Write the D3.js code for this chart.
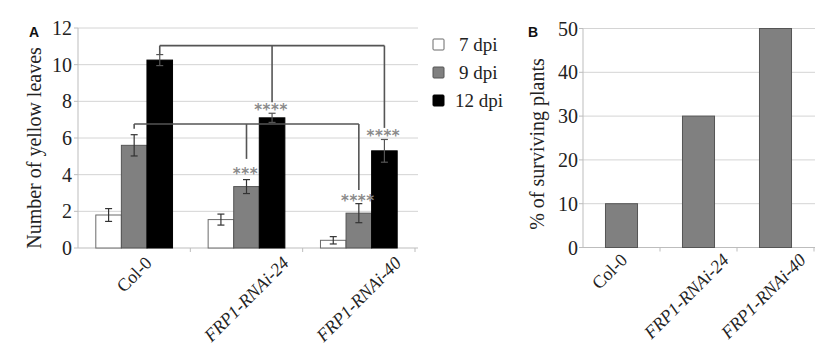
<!DOCTYPE html>
<html><head><meta charset="utf-8">
<script src="https://cdn.jsdelivr.net/npm/d3@7/dist/d3.min.js"></script>
<style>body{margin:0;background:#fff}svg{display:block}</style>
</head><body>
<svg id="c" width="836" height="350"></svg>
<script>
// ---- data ----
const categories = ["Col-0", "FRP1-RNAi-24", "FRP1-RNAi-40"];
const italicCats = [false, true, true];
const seriesNames = ["7 dpi", "9 dpi", "12 dpi"];
const dpi7  = [1.8, 1.55, 0.42];
const dpi9  = [5.6, 3.35, 1.9];
const dpi12 = [10.25, 7.1, 5.3];
const err7  = [0.35, 0.3, 0.2];
const err9  = [0.58, 0.38, 0.52];
const err12 = [0.3, 0.25, 0.62];
const ticksA = [0, 2, 4, 6, 8, 10, 12];
const survival = [10, 30, 50];
const ticksB = [0, 10, 20, 30, 40, 50];
// significance brackets: level and drop ends [cat, series, end value]
const bracketTop = {level: 11.04, ends: [[0, 2, 10.58], [1, 2, 7.95], [2, 2, 6.55]]};
const bracketMid = {level: 6.76, ends: [[0, 1, 6.5], [1, 1, 4.86], [2, 1, 3.16]]};
const stars = [[1, 2, "****", 7.75], [1, 1, "***", 4.26], [2, 1, "****", 2.8], [2, 2, "****", 6.35]];

const svg = d3.select("#c");
const serif = "'Liberation Serif','Times New Roman',serif";
const values = [dpi7, dpi9, dpi12];
const errs = [err7, err9, err12];
const fills = ["#ffffff", "#808080", "#000000"];
const strokes = ["#6b6b6b", "#555555", "#000000"];

// ---------- Panel A ----------
const xA = d3.scaleBand().domain(categories).range([78, 415]).paddingInner(0.317).paddingOuter(0.1585);
const xS = d3.scaleBand().domain(seriesNames).range([0, xA.bandwidth()]);
const yA = d3.scaleLinear().domain([0, 12]).range([248, 28]);
const gA = svg.append("g");

gA.selectAll("line.grid").data(ticksA.slice(1)).join("line")
  .attr("x1", 78).attr("x2", 418).attr("y1", d => yA(d)).attr("y2", d => yA(d))
  .attr("stroke", "#d4d4d4").attr("stroke-width", 1);
gA.append("line").attr("x1", 78).attr("x2", 78).attr("y1", yA(12)).attr("y2", yA(0)).attr("stroke", "#bdbdbd");
gA.append("line").attr("x1", 78).attr("x2", 418).attr("y1", yA(0)).attr("y2", yA(0)).attr("stroke", "#bdbdbd");
gA.selectAll("line.yt").data(ticksA).join("line")
  .attr("x1", 74).attr("x2", 78).attr("y1", d => yA(d)).attr("y2", d => yA(d)).attr("stroke", "#bdbdbd");
const stepA = xA.step();
d3.range(1, categories.length + 1).forEach(i => {
  const xx = 78 + i * stepA;
  gA.append("line").attr("x1", xx).attr("x2", xx).attr("y1", yA(0)).attr("y2", yA(0) + 4).attr("stroke", "#bdbdbd");
});
gA.selectAll("text.yl").data(ticksA).join("text")
  .attr("x", 72).attr("y", d => yA(d)).attr("text-anchor", "end").attr("dominant-baseline", "central")
  .attr("font-family", serif).attr("font-size", 20).attr("fill", "#222").text(d => d);

// bars
seriesNames.forEach((s, si) => {
  categories.forEach((c, ci) => {
    const v = values[si][ci], e = errs[si][ci];
    const x = xA(c) + xS(s), w = xS.bandwidth();
    gA.append("rect").attr("x", x).attr("y", yA(v)).attr("width", w).attr("height", yA(0) - yA(v))
      .attr("fill", fills[si]).attr("stroke", strokes[si]).attr("stroke-width", 1);
    const cx = x + w / 2;
    const eb = gA.append("g").attr("stroke", si === 2 ? "#555" : "#333").attr("stroke-width", 1.2);
    eb.append("line").attr("x1", cx).attr("x2", cx).attr("y1", yA(v + e)).attr("y2", yA(v - e));
    eb.append("line").attr("x1", cx - 3.5).attr("x2", cx + 3.5).attr("y1", yA(v + e)).attr("y2", yA(v + e));
    eb.append("line").attr("x1", cx - 3.5).attr("x2", cx + 3.5).attr("y1", yA(v - e)).attr("y2", yA(v - e));
  });
});

// brackets
function bracket(b) {
  const xs = b.ends.map(([ci, si]) => xA(categories[ci]) + xS(seriesNames[si]) + xS.bandwidth() / 2);
  const g = gA.append("g").attr("stroke", "#555").attr("stroke-width", 1.6).attr("fill", "none");
  g.append("line").attr("x1", xs[0]).attr("x2", xs[xs.length - 1]).attr("y1", yA(b.level)).attr("y2", yA(b.level));
  b.ends.forEach((d, i) => {
    g.append("line").attr("x1", xs[i]).attr("x2", xs[i]).attr("y1", yA(b.level)).attr("y2", yA(d[2]));
  });
}
bracket(bracketTop);
bracket(bracketMid);
stars.forEach(([ci, si, t, lv]) => {
  gA.append("text").attr("x", xA(categories[ci]) + xS(seriesNames[si]) + xS.bandwidth() / 2 - 1)
    .attr("y", yA(lv) + 9.5).attr("text-anchor", "middle").attr("font-family", "'DejaVu Sans',sans-serif")
    .attr("font-size", 15).attr("font-weight", "bold").attr("letter-spacing", 0.6)
    .attr("fill", "#8a8a8a").text(t);
});

// x labels
function rotLabels(g, xs, off, top, fs) {
  categories.forEach((c, i) => {
    const t = g.append("text").attr("text-anchor", "middle").attr("dominant-baseline", "central")
      .attr("font-family", serif).attr("font-size", fs).attr("fill", "#222")
      .attr("font-style", italicCats[i] ? "italic" : "normal").text(c);
    const L = t.node().getComputedTextLength();
    const cx = xs(c) + xs.bandwidth() / 2 + off;
    const cy = top + (L * 0.7071) / 2 + 5;
    t.attr("transform", `translate(${cx},${cy}) rotate(-45)`);
  });
}
rotLabels(gA, xA, 0, 255, 18);

// y title
gA.append("text").attr("transform", "translate(34,148) rotate(-90)").attr("text-anchor", "middle")
  .attr("dominant-baseline", "central").attr("font-family", serif).attr("font-size", 20).attr("fill", "#222")
  .text("Number of yellow leaves");
svg.append("text").attr("x", 29).attr("y", 37).attr("font-family", "'Liberation Sans',Arial,sans-serif")
  .attr("font-weight", "bold").attr("font-size", 14).attr("fill", "#111").text("A");

// legend
const leg = svg.append("g");
seriesNames.forEach((s, i) => {
  const by = 39 + i * 28;
  leg.append("rect").attr("x", 433).attr("y", by).attr("width", 11).attr("height", 11).attr("rx", 1)
    .attr("fill", fills[i]).attr("stroke", strokes[i]);
  leg.append("text").attr("x", i === 2 ? 455 : 459).attr("y", by + 11.5).attr("font-family", serif)
    .attr("font-size", 19).attr("fill", "#222").text(s);
});

// ---------- Panel B ----------
const xB = d3.scaleBand().domain(categories).range([583, 814]).paddingInner(0.584).paddingOuter(0.292);
const yB = d3.scaleLinear().domain([0, 50]).range([247.5, 28.5]);
const gB = svg.append("g");
gB.selectAll("line.grid").data(ticksB.slice(1)).join("line")
  .attr("x1", 583).attr("x2", 815).attr("y1", d => yB(d)).attr("y2", d => yB(d))
  .attr("stroke", "#d4d4d4");
gB.append("line").attr("x1", 583).attr("x2", 583).attr("y1", yB(50)).attr("y2", yB(0)).attr("stroke", "#bdbdbd");
gB.append("line").attr("x1", 583).attr("x2", 815).attr("y1", yB(0)).attr("y2", yB(0)).attr("stroke", "#bdbdbd");
gB.selectAll("line.yt").data(ticksB).join("line")
  .attr("x1", 579).attr("x2", 583).attr("y1", d => yB(d)).attr("y2", d => yB(d)).attr("stroke", "#bdbdbd");
d3.range(1, categories.length + 1).forEach(i => {
  const xx = 583 + i * xB.step();
  gB.append("line").attr("x1", xx).attr("x2", xx).attr("y1", yB(0)).attr("y2", yB(0) + 4).attr("stroke", "#bdbdbd");
});
gB.selectAll("text.yl").data(ticksB).join("text")
  .attr("x", 578).attr("y", d => yB(d)).attr("text-anchor", "end").attr("dominant-baseline", "central")
  .attr("font-family", serif).attr("font-size", 20).attr("fill", "#222").text(d => d);
gB.selectAll("rect.bar").data(survival).join("rect")
  .attr("x", (d, i) => xB(categories[i])).attr("y", d => yB(d))
  .attr("width", xB.bandwidth()).attr("height", d => yB(0) - yB(d))
  .attr("fill", "#808080").attr("stroke", "#555").attr("stroke-width", 1);
rotLabels(gB, xB, -12, 252, 18);
gB.append("text").attr("transform", "translate(537,144) rotate(-90)").attr("text-anchor", "middle")
  .attr("dominant-baseline", "central").attr("font-family", serif).attr("font-size", 20).attr("fill", "#222")
  .text("% of surviving plants");
svg.append("text").attr("x", 528).attr("y", 37).attr("font-family", "'Liberation Sans',Arial,sans-serif")
  .attr("font-weight", "bold").attr("font-size", 14).attr("fill", "#111").text("B");
</script>
</body></html>
